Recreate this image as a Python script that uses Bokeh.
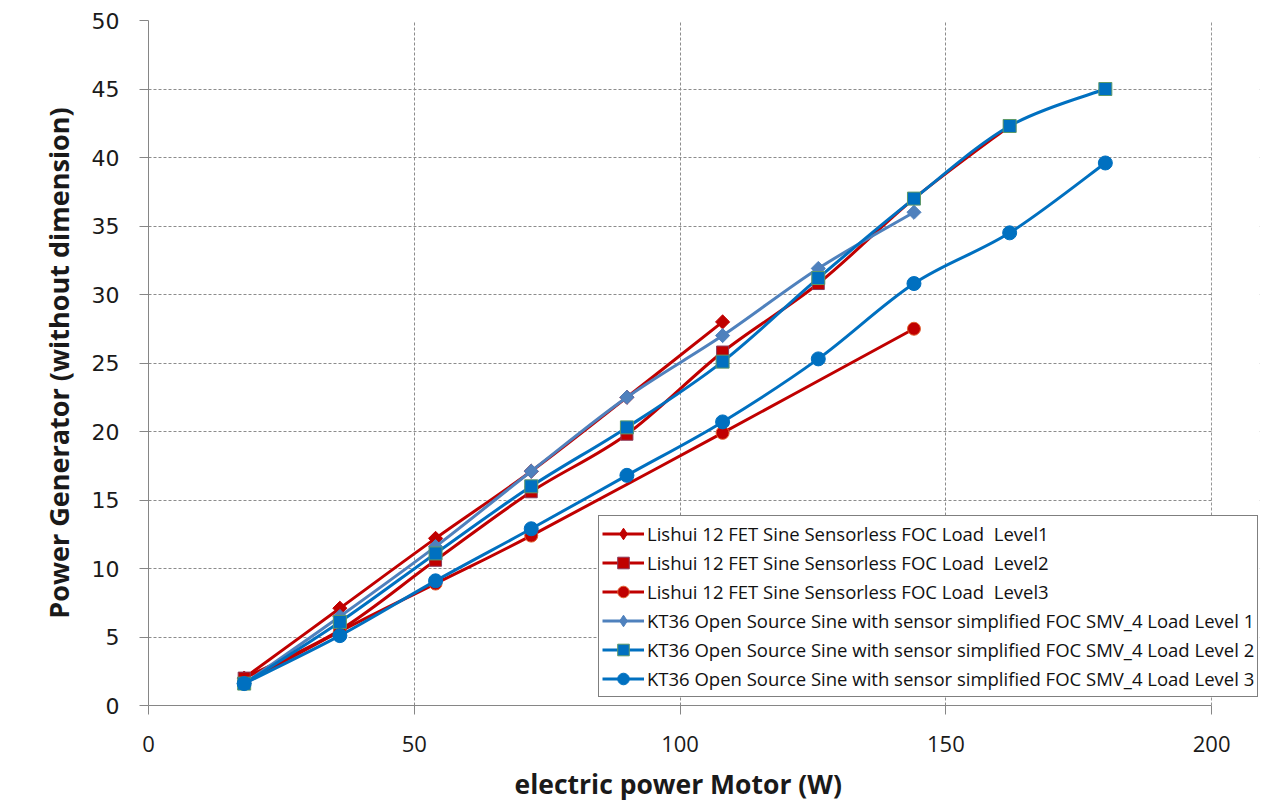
import math
from bokeh.plotting import figure
from bokeh.models import Legend, LegendItem, FixedTicker, Range1d, BoxAnnotation, Title
from bokeh.embed import file_html
from bokeh.resources import INLINE

# ---- data ----
x_lishui_l1 = [18, 36, 54, 72, 90, 108]
y_lishui_l1 = [2.0, 7.1, 12.2, 17.1, 22.5, 28.0]

x_lishui_l2 = [18, 36, 54, 72, 90, 108, 126, 144, 162]
y_lishui_l2 = [2.0, 5.5, 10.6, 15.6, 19.8, 25.8, 30.8, 37.0, 42.3]

x_lishui_l3 = [18, 36, 54, 72, 108, 144]
y_lishui_l3 = [1.6, 5.4, 8.9, 12.4, 19.9, 27.5]

x_kt_l1 = [18, 36, 54, 72, 90, 108, 126, 144]
y_kt_l1 = [1.6, 6.5, 11.6, 17.1, 22.5, 27.0, 31.9, 36.0]

x_kt_l2 = [18, 36, 54, 72, 90, 108, 126, 144, 162, 180]
y_kt_l2 = [1.6, 6.1, 11.1, 16.0, 20.3, 25.1, 31.2, 37.0, 42.3, 45.0]

x_kt_l3 = [18, 36, 54, 72, 90, 108, 126, 144, 162, 180]
y_kt_l3 = [1.6, 5.1, 9.1, 12.9, 16.8, 20.7, 25.3, 30.8, 34.5, 39.6]

labels = [
    "Lishui 12 FET Sine Sensorless FOC Load  Level1",
    "Lishui 12 FET Sine Sensorless FOC Load  Level2",
    "Lishui 12 FET Sine Sensorless FOC Load  Level3",
    "KT36 Open Source Sine with sensor simplified FOC SMV_4 Load Level 1",
    "KT36 Open Source Sine with sensor simplified FOC SMV_4 Load Level 2",
    "KT36 Open Source Sine with sensor simplified FOC SMV_4 Load Level 3",
]
x_ticks = [0, 50, 100, 150, 200]
y_ticks = [0, 5, 10, 15, 20, 25, 30, 35, 40, 45, 50]
x_title = "electric power Motor (W)"
y_title = "Power Generator (without dimension)"

RED = "#C00000"
SLATE = "#4F81BD"
BLUE = "#0070C0"

# (x, y, colour, marker, size, edge colour, diamond?)
series = [
    (x_lishui_l1, y_lishui_l1, RED, "square", 10, RED, True),
    (x_lishui_l2, y_lishui_l2, RED, "square", 12, "#8B3A5A", False),
    (x_lishui_l3, y_lishui_l3, RED, "circle", 13, "#E06030", False),
    (x_kt_l1, y_kt_l1, SLATE, "square", 10, SLATE, True),
    (x_kt_l2, y_kt_l2, BLUE, "square", 13, "#5E9A6A", False),
    (x_kt_l3, y_kt_l3, BLUE, "circle", 14, BLUE, False),
]

X_MAX = 200
X_EXTRA = 209  # frame extends a little to the right so the legend can overhang

p = figure(
    width=1262, height=800,
    frame_width=1111, frame_height=685,
    min_border_left=148, min_border_top=20, min_border_right=3, min_border_bottom=95,
    x_range=Range1d(0, X_EXTRA), y_range=Range1d(0, 50),
    output_backend="svg", toolbar_location=None,
)
p.outline_line_color = None
p.background_fill_color = "white"

# grid
for g in (p.xgrid, p.ygrid):
    g.grid_line_color = "#8C8C8C"
    g.grid_line_dash = "3 2"
    g.grid_line_width = 1
p.xaxis.ticker = FixedTicker(ticks=x_ticks)
p.yaxis.ticker = FixedTicker(ticks=y_ticks)
p.xaxis.bounds = (0, X_MAX)

# blank out the grid beyond x = 200
p.add_layout(BoxAnnotation(left=X_MAX + 0.05, fill_color="white", fill_alpha=1,
                           line_color=None, level="underlay"))

for ax in (p.xaxis, p.yaxis):
    ax.axis_line_color = "#868686"
    ax.major_tick_line_color = "#868686"
    ax.minor_tick_line_color = None
    ax.major_tick_out = 9
    ax.major_tick_in = 0
    ax.axis_label_text_font_style = "bold"
    ax.axis_label_text_color = "#1a1a1a"
    ax.major_label_text_color = "#1a1a1a"

p.xaxis.major_label_text_font = "Open Sans"
p.xaxis.major_label_text_font_size = "22px"
p.xaxis.major_label_standoff = 21
p.yaxis.major_label_text_font = "DejaVu Sans"
p.yaxis.major_label_text_font_size = "22px"
p.yaxis.major_label_standoff = 20

p.yaxis.axis_label = y_title
p.yaxis.axis_label_text_font = "Open Sans"
p.yaxis.axis_label_text_font_size = "27px"
p.yaxis.axis_label_standoff = 12

# x-axis title, centred on the 0..200 part of the frame
p.add_layout(Title(text=x_title, align="left", offset=366,
                   text_font="Open Sans", text_font_size="26.5px",
                   text_font_style="bold", text_color="#1a1a1a",
                   standoff=18), "below")


def smooth_segments(xs, ys):
    n = len(xs)
    x0, y0, x1, y1, cx0, cy0, cx1, cy1 = [], [], [], [], [], [], [], []
    for i in range(n - 1):
        pm = i - 1 if i > 0 else i
        pp = i + 2 if i + 2 < n else i + 1
        x0.append(xs[i]); y0.append(ys[i])
        x1.append(xs[i + 1]); y1.append(ys[i + 1])
        cx0.append(xs[i] + (xs[i + 1] - xs[pm]) / 6.0)
        cy0.append(ys[i] + (ys[i + 1] - ys[pm]) / 6.0)
        cx1.append(xs[i + 1] - (xs[pp] - xs[i]) / 6.0)
        cy1.append(ys[i + 1] - (ys[pp] - ys[i]) / 6.0)
    return dict(x0=x0, y0=y0, x1=x1, y1=y1, cx0=cx0, cy0=cy0, cx1=cx1, cy1=cy1)


items = []
for (xs, ys, col, marker, size, edge, is_diamond), lab in zip(series, labels):
    seg = smooth_segments(xs, ys)
    p.bezier(x0=seg["x0"], y0=seg["y0"], x1=seg["x1"], y1=seg["y1"],
             cx0=seg["cx0"], cy0=seg["cy0"], cx1=seg["cx1"], cy1=seg["cy1"],
             line_color=col, line_width=3)
    proxy = p.line(x=[float("nan")], y=[float("nan")], line_color=col, line_width=3)
    sc = p.scatter(x=xs, y=ys, marker=marker, size=size,
                   angle=(math.pi / 4 if is_diamond else 0),
                   fill_color=col, line_color=edge, line_width=1)
    if is_diamond:
        mk = p.scatter(x=[float("nan")], y=[float("nan")], marker="diamond", size=17,
                       fill_color=col, line_color=edge, line_width=1)
        items.append(LegendItem(label=lab, renderers=[proxy, mk]))
    else:
        items.append(LegendItem(label=lab, renderers=[proxy, sc]))

legend = Legend(
    items=items, location=(450, 8),
    border_line_color="black", border_line_width=1.5,
    background_fill_color="white", background_fill_alpha=1,
    label_text_font="Open Sans", label_text_font_size="18.5px",
    label_text_color="#111111",
    glyph_width=42, glyph_height=29, label_height=29, spacing=0,
    padding=3, margin=0, label_standoff=3,
)
p.add_layout(legend, "center")

open("out.html", "w").write(file_html(p, INLINE))
